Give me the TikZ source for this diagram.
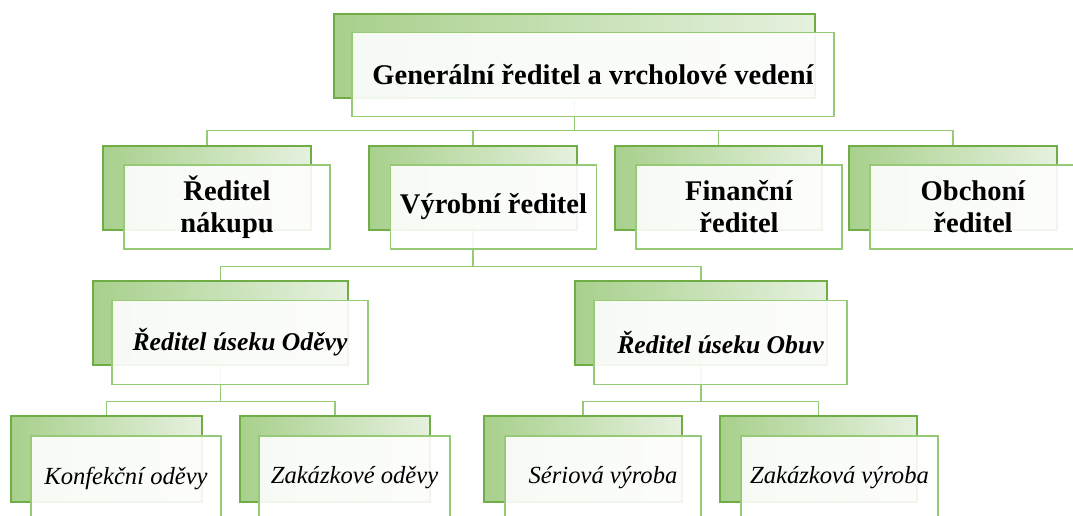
\documentclass[tikz,border=0pt]{standalone}
\usepackage{fontspec}
\setmainfont{Liberation Serif}
\definecolor{gDark}{RGB}{112,173,71}
\definecolor{gLine}{RGB}{150,202,118}
\definecolor{gLeft}{RGB}{168,208,140}
\definecolor{gRight}{RGB}{230,241,223}
\tikzset{
  backbox/.style={draw=gDark, line width=1.6pt, left color=gLeft, right color=gRight,
    minimum height=84pt, inner sep=0pt},
  frontbox/.style={draw=gLine, line width=1.2pt, fill=white, fill opacity=0.9, text opacity=1,
    minimum height=84pt, inner sep=0pt, align=center},
  link/.style={draw=gLine, line width=1.3pt},
  lvlA/.style={font=\fontsize{28.5}{32}\selectfont\bfseries},
  lvlB/.style={font=\fontsize{25.6}{29}\selectfont\bfseries\itshape},
  lvlC/.style={font=\fontsize{24.6}{28}\selectfont\itshape},
}
\begin{document}
\begin{tikzpicture}[x=1pt,y=-1pt]
\useasboundingbox (0,0) rectangle (1073,516);
% back panels
\node[backbox, minimum width=481pt] (topB) at (574.5,56) {};
\node[backbox, minimum width=208pt] (nakB) at (207,188) {};
\node[backbox, minimum width=208pt] (vyrB) at (473,188) {};
\node[backbox, minimum width=207pt] (finB) at (718.5,188) {};
\node[backbox, minimum width=208pt] (obcB) at (953,188) {};
\node[backbox, minimum width=255pt] (odeB) at (220.5,323) {};
\node[backbox, minimum width=252pt] (obuB) at (701,323) {};
\node[backbox, minimum width=191pt, minimum height=86pt] (konB) at (106.5,459) {};
\node[backbox, minimum width=190pt, minimum height=86pt] (zodB) at (335,459) {};
\node[backbox, minimum width=198pt, minimum height=86pt] (serB) at (583,459) {};
\node[backbox, minimum width=197pt, minimum height=86pt] (zvyB) at (818.5,459) {};
% connectors
\foreach \c in {nakB,vyrB,finB,obcB}
  \draw[link] (topB.south) -- ++(0,32) -| (\c.north);
\foreach \c in {odeB,obuB}
  \draw[link] (vyrB.south) -- ++(0,36) -| (\c.north);
\foreach \c in {konB,zodB}
  \draw[link] (odeB.south) -- ++(0,36) -| (\c.north);
\foreach \c in {serB,zvyB}
  \draw[link] (obuB.south) -- ++(0,36) -| (\c.north);
% front panels with the titles
\node[frontbox, lvlA, minimum width=482pt] (top) at (593,74.5) {Generální ředitel a vrcholové vedení};
\node[frontbox, lvlA, minimum width=206pt] (nak) at (227,207) {Ředitel\\nákupu};
\node[frontbox, lvlA, minimum width=206pt] (vyr) at (493.5,207) {Výrobní ředitel};
\node[frontbox, lvlA, minimum width=206pt] (fin) at (739,207) {Finanční\\ředitel};
\node[frontbox, lvlA, minimum width=206pt] (obc) at (973,207) {Obchoní\\ředitel};
\node[frontbox, lvlB, minimum width=256pt] (ode) at (240,342.5) {Ředitel úseku Oděvy};
\node[frontbox, lvlB, minimum width=253pt] (obu) at (720.5,342.5) {Ředitel úseku Obuv};
\node[frontbox, lvlC, minimum width=190pt] (kon) at (126,478) {Konfekční oděvy};
\node[frontbox, lvlC, minimum width=191pt] (zod) at (354.5,478) {Zakázkové oděvy};
\node[frontbox, lvlC, minimum width=196pt] (ser) at (603,478) {Sériová výroba};
\node[frontbox, lvlC, minimum width=197pt] (zvy) at (839.5,478) {Zakázková výroba};
\end{tikzpicture}
\end{document}
